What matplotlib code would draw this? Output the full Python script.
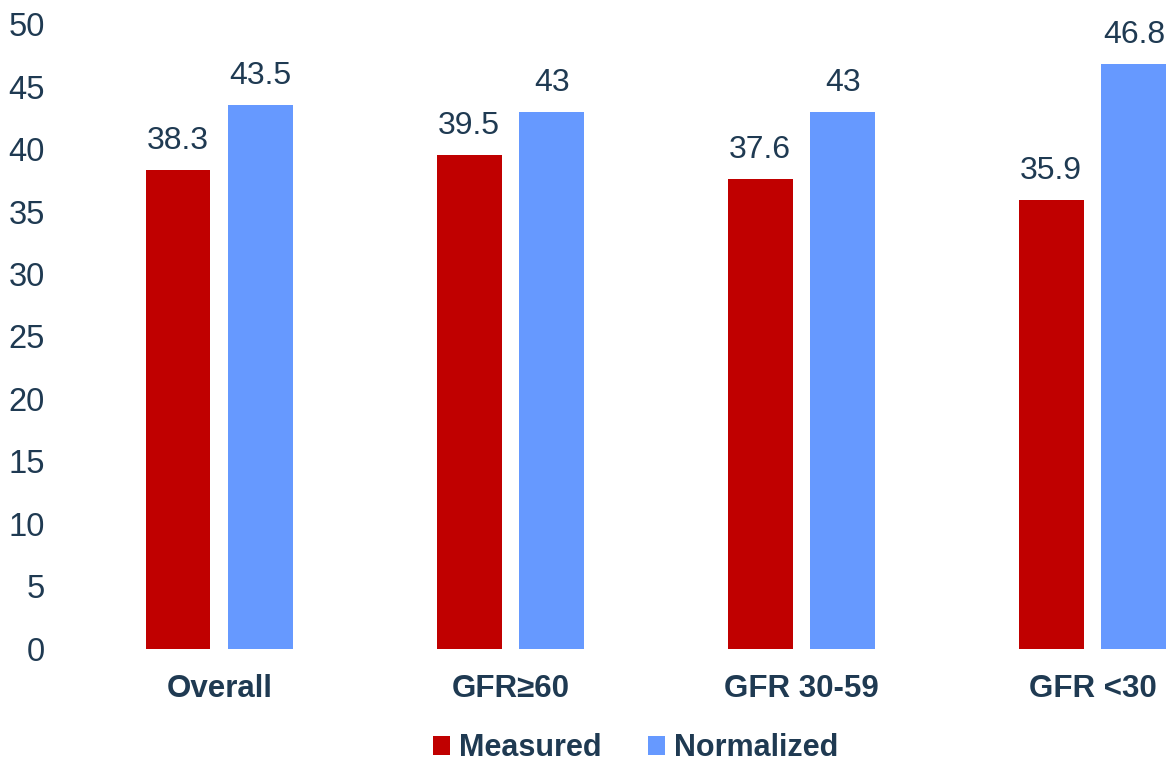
import matplotlib.pyplot as plt
import numpy as np

plt.rcParams['font.family'] = ['Liberation Sans', 'DejaVu Sans']

categories = ["Overall", "GFR\u226560", "GFR 30-59", "GFR <30"]
measured = [38.3, 39.5, 37.6, 35.9]
normalized = [43.5, 43, 43, 46.8]
yticks = [0, 5, 10, 15, 20, 25, 30, 35, 40, 45, 50]

text_color = "#1F3A52"
red = "#C00000"
blue = "#6699FF"

fig = plt.figure(figsize=(11.71, 7.62), dpi=100)
ax = fig.add_axes([0.05, 0.1483, 0.95, 0.8202])

x = np.arange(len(categories))
width = 0.223
off = 0.142

b1 = ax.bar(x - off, measured, width, color=red, label="Measured")
b2 = ax.bar(x + off, normalized, width, color=blue, label="Normalized")

for bars, vals in ((b1, measured), (b2, normalized)):
    for rect, v in zip(bars, vals):
        ax.annotate(f"{v:g}", (rect.get_x() + rect.get_width() / 2, v),
                    xytext=(0, 10), textcoords="offset points",
                    ha="center", va="bottom", fontsize=23, color=text_color)

ax.set_xlim((60 - 220.6) / 290.7, (1171 - 220.6) / 290.7)
ax.set_ylim(0, 50)
ax.set_yticks(yticks)
ax.set_xticks(x)
ax.set_xticklabels(categories, fontweight="bold")
ax.tick_params(axis="y", length=0, labelsize=23.5, labelcolor=text_color, pad=10)
ax.tick_params(axis="x", length=0, labelsize=22.5, labelcolor=text_color, pad=18)
for s in ax.spines.values():
    s.set_visible(False)

fig.legend(loc="center", bbox_to_anchor=(0.543, 0.018), ncol=2, frameon=False,
           prop={"size": 22, "weight": "bold"}, labelcolor=text_color,
           handlelength=0.55, handleheight=0.55, handletextpad=0.3, columnspacing=1.5)

fig.savefig("out.png", dpi=100)
